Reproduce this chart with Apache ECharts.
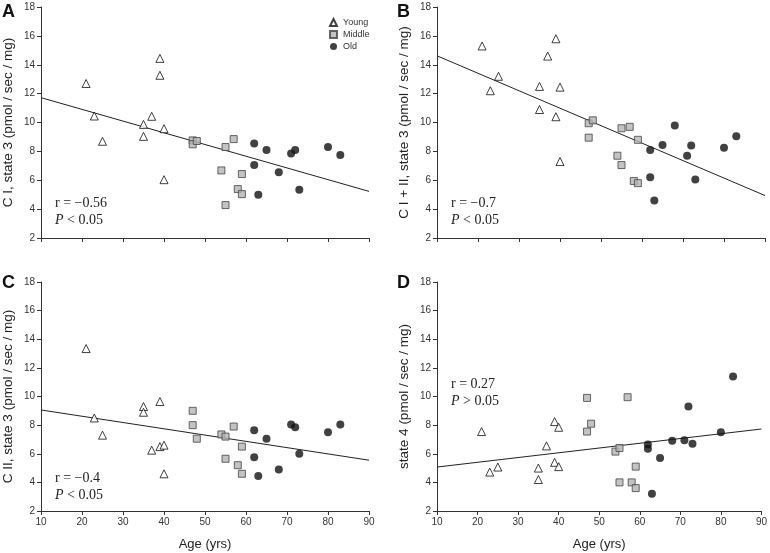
<!DOCTYPE html>
<html>
<head>
<meta charset="utf-8">
<script src="https://cdn.jsdelivr.net/npm/echarts@6/dist/echarts.min.js"></script>
<style>
  html, body { margin: 0; padding: 0; background: #fff; }
  #chart { width: 770px; height: 553px; }
</style>
</head>
<body>
<div id="chart"></div>
<script>
// ages of the three groups (same subjects in every panel)
const ageYoung = [21, 23, 25, 35, 35, 37, 39, 39, 40, 40];
const ageMiddle = [47, 47, 48, 54, 55, 55, 57, 58, 59, 59];
const ageOld = [62, 62, 63, 65, 68, 71, 72, 73, 80, 83];

// panel A: C I, state 3
const aYoung = [12.7, 10.45, 8.7, 9.87, 9.04, 10.43, 14.44, 13.27, 9.57, 6.04];
const aMiddle = [8.76, 8.49, 8.72, 6.68, 8.3, 4.28, 8.85, 5.39, 6.43, 5.04];
const aOld = [8.55, 7.05, 5.0, 8.1, 6.55, 7.85, 8.1, 5.35, 8.3, 7.75];
const aFit = [11.72, 5.23];

// panel B: C I + II, state 3
const bYoung = [15.3, 12.2, 13.2, 12.5, 10.9, 14.6, 15.8, 10.4, 12.45, 7.3];
const bMiddle = [9.95, 8.95, 10.15, 7.7, 9.6, 7.05, 9.7, 5.95, 8.8, 5.8];
const bOld = [8.1, 6.2, 4.6, 8.45, 9.8, 7.7, 8.4, 6.05, 8.25, 9.05];
const bFit = [14.62, 4.94];

// panel C: C II, state 3
const cYoung = [13.35, 8.5, 7.3, 9.3, 8.9, 6.25, 9.65, 6.5, 6.6, 4.6];
const cMiddle = [9.0, 8.0, 7.05, 7.35, 7.2, 5.65, 7.9, 5.2, 6.5, 4.6];
const cOld = [7.65, 5.75, 4.45, 7.05, 4.9, 8.05, 7.85, 6.0, 7.5, 8.05];
const cFit = [9.06, 5.55];

// panel D: state 4
const dYoung = [7.55, 4.72, 5.07, 5.0, 4.2, 6.55, 8.25, 5.4, 7.85, 5.1];
const dMiddle = [9.9, 7.55, 8.1, 6.15, 6.4, 4.0, 9.95, 4.0, 5.1, 3.6];
const dOld = [6.65, 6.35, 3.2, 5.7, 6.9, 6.95, 9.3, 6.7, 7.5, 11.4];
const dFit = [5.07, 7.73];

const fitAges = [10, 90];
const letters = ['A', 'B', 'C', 'D'];
const yNames = [
  'C I, state 3 (pmol / sec / mg)',
  'C I + II, state 3 (pmol / sec / mg)',
  'C II, state 3 (pmol / sec / mg)',
  'state 4 (pmol / sec / mg)'
];
const rTexts = ['r = \u22120.56', 'r = \u22120.7', 'r = \u22120.4', 'r = 0.27'];
const pTexts = ['< 0.05', '< 0.05', '< 0.05', '> 0.05'];

const panels = [
  [aYoung, aMiddle, aOld, aFit],
  [bYoung, bMiddle, bOld, bFit],
  [cYoung, cMiddle, cOld, cFit],
  [dYoung, dMiddle, dOld, dFit]
];

const pair = (xs, ys) => xs.map((x, i) => [x, ys[i]]);

const grids = [
  { left: 41, top: 7, width: 328, height: 231 },
  { left: 437, top: 7, width: 328, height: 231 },
  { left: 41, top: 282, width: 328, height: 229 },
  { left: 437, top: 282, width: 328, height: 229 }
];

const axisColor = '#333';
const font = 'Liberation Sans, Arial, sans-serif';

const xAxes = grids.map((g, i) => ({
  gridIndex: i,
  type: 'value',
  min: 10, max: 90, interval: 10,
  name: i >= 2 ? 'Age (yrs)' : '',
  nameLocation: 'middle',
  nameGap: 27,
  nameTextStyle: { fontSize: 13, color: '#222', fontFamily: font },
  axisLine: { show: true, onZero: false, lineStyle: { color: axisColor, width: 1 } },
  axisTick: { show: true, inside: false, length: 4, lineStyle: { color: axisColor } },
  axisLabel: { show: i >= 2, fontSize: 10, color: '#333', fontFamily: font, margin: 6 },
  splitLine: { show: false }
}));

const yAxes = grids.map((g, i) => ({
  gridIndex: i,
  type: 'value',
  min: 2, max: 18, interval: 2,
  name: yNames[i],
  nameLocation: 'middle',
  nameGap: 26,
  nameTextStyle: { fontSize: 13.5, color: '#222', fontFamily: font },
  axisLine: { show: true, lineStyle: { color: axisColor, width: 1 } },
  axisTick: { show: true, inside: false, length: 4, lineStyle: { color: axisColor } },
  axisLabel: { fontSize: 10, color: '#333', fontFamily: font, margin: 6 },
  splitLine: { show: false }
}));

const series = [];
panels.forEach((p, i) => {
  series.push({
    name: 'Young', type: 'scatter', xAxisIndex: i, yAxisIndex: i,
    symbol: 'triangle', symbolSize: 8,
    itemStyle: { color: '#fff', borderColor: '#111', borderWidth: 1 },
    data: pair(ageYoung, p[0]), z: 3
  });
  series.push({
    name: 'Middle', type: 'scatter', xAxisIndex: i, yAxisIndex: i,
    symbol: 'rect', symbolSize: 7,
    itemStyle: { color: '#b4b4b4', borderColor: '#444', borderWidth: 1 },
    data: pair(ageMiddle, p[1]), z: 3
  });
  series.push({
    name: 'Old', type: 'scatter', xAxisIndex: i, yAxisIndex: i,
    symbol: 'circle', symbolSize: 8,
    itemStyle: { color: '#111' },
    data: pair(ageOld, p[2]), z: 3
  });
  series.push({
    name: 'fit' + i, type: 'line', xAxisIndex: i, yAxisIndex: i,
    showSymbol: false, symbol: 'none', silent: true,
    lineStyle: { color: '#222', width: 1 },
    data: pair(fitAges, p[3]), z: 2
  });
});

const letterPos = [[2, 3], [397, 3], [2, 274], [397, 274]];
const rPos = [[55, 195], [451, 195], [55, 470], [451, 376]];

const graphics = [];
letters.forEach((L, i) => {
  graphics.push({
    type: 'text', left: letterPos[i][0], top: letterPos[i][1],
    style: { text: L, font: 'bold 18px Liberation Sans, Arial, sans-serif', fill: '#111' }
  });
  graphics.push({
    type: 'text', left: rPos[i][0], top: rPos[i][1],
    style: {
      text: rTexts[i] + '\n{i|P} ' + pTexts[i],
      font: '14px Liberation Serif, Times New Roman, serif',
      fill: '#222',
      lineHeight: 17,
      rich: {
        i: { font: 'italic 14px Liberation Serif, Times New Roman, serif', fill: '#222', lineHeight: 17 }
      }
    }
  });
});

const chart = echarts.init(document.getElementById('chart'), null, { renderer: 'canvas' });
chart.setOption({
  animation: false,
  backgroundColor: '#fff',
  grid: grids,
  xAxis: xAxes,
  yAxis: yAxes,
  legend: {
    data: ['Young', 'Middle', 'Old'],
    orient: 'vertical',
    left: 324, top: 13,
    itemWidth: 7, itemHeight: 7, itemGap: 3,
    textStyle: { fontSize: 9, color: '#333', fontFamily: font, padding: [0, 0, 0, 1] },
    selectedMode: false
  },
  series: series,
  graphic: graphics
});
</script>
</body>
</html>
